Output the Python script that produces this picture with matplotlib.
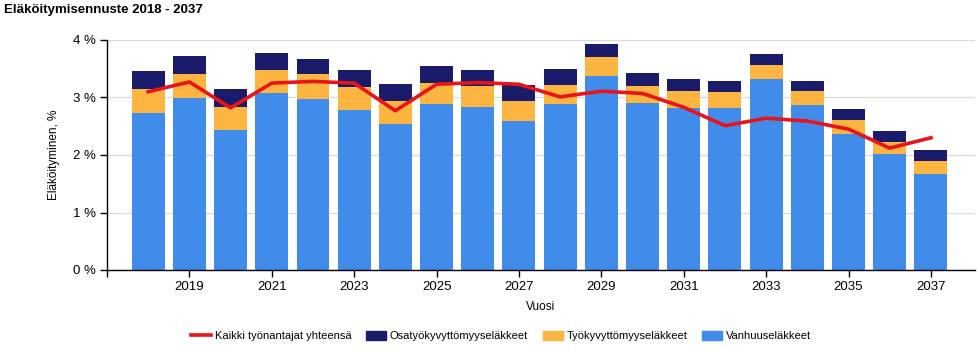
import numpy as np
import matplotlib
matplotlib.use("Agg")
from matplotlib import pyplot as plt
from matplotlib import lines as ml, patches as mp

plt.rcParams['font.family'] = ['Liberation Sans', 'DejaVu Sans']

# data (percent)
years = list(range(2018, 2038))
vanhuus = [2.73, 2.99, 2.44, 3.08, 2.97, 2.78, 2.54, 2.89, 2.83, 2.59,
           2.89, 3.37, 2.90, 2.82, 2.82, 3.32, 2.87, 2.37, 2.02, 1.67]
tyokyvyttomyys = [0.42, 0.42, 0.40, 0.40, 0.43, 0.41, 0.40, 0.36, 0.37, 0.35,
                  0.33, 0.33, 0.30, 0.29, 0.28, 0.25, 0.24, 0.24, 0.21, 0.23]
osatyokyvyttomyys = [0.31, 0.31, 0.31, 0.29, 0.27, 0.29, 0.29, 0.30, 0.28, 0.28,
                     0.28, 0.23, 0.23, 0.21, 0.19, 0.19, 0.18, 0.19, 0.19, 0.19]
kaikki = [3.10, 3.27, 2.82, 3.25, 3.28, 3.25, 2.77, 3.23, 3.26, 3.23,
          3.01, 3.11, 3.07, 2.83, 2.51, 2.64, 2.59, 2.45, 2.12, 2.30]

c_blue = "#418BEA"
c_orange = "#FDB541"
c_navy = "#1B1B6B"
c_red = "#E8141A"

fig = plt.figure(figsize=(9.77, 3.51), dpi=100)
ax = fig.add_axes([107 / 977, 81 / 351, 868 / 977, 230 / 351])

x = np.array(years)
v = np.array(vanhuus)
t = np.array(tyokyvyttomyys)
o = np.array(osatyokyvyttomyys)
ax.bar(x, v, width=0.8, color=c_blue, zorder=2)
ax.bar(x, t, width=0.8, bottom=v, color=c_orange, zorder=2)
ax.bar(x, o, width=0.8, bottom=v + t, color=c_navy, zorder=2)
ax.plot(x, kaikki, color=c_red, linewidth=2.6, zorder=3)

ax.set_xlim(2017, 2038.07)
ax.set_ylim(0, 4)
ax.set_yticks([0, 1, 2, 3, 4])
ax.set_yticklabels(["0 %", "1 %", "2 %", "3 %", "4 %"], fontsize=9.5)
xt = list(range(2017, 2038, 2))
ax.set_xticks(xt)
ax.set_xticklabels([""] + [str(y) for y in xt[1:]], fontsize=9.5)
ax.grid(axis='y', color="#d9d9d9", linewidth=0.9, zorder=0)
ax.set_axisbelow(True)
for s in ['top', 'right']:
    ax.spines[s].set_visible(False)
for s in ['left', 'bottom']:
    ax.spines[s].set_color("black")
    ax.spines[s].set_linewidth(1.0)
ax.tick_params(axis='both', direction='out', length=5, width=1, colors='black', pad=3)

ax.set_xlabel("Vuosi", fontsize=8.5, labelpad=6)
ax.set_ylabel("Eläköityminen, %", fontsize=8.5, labelpad=9)

fig.text(4 / 977, 1 - 10 / 351, "Eläköitymisennuste 2018 - 2037", fontsize=9.5,
         fontweight='bold', va='center', ha='left')

handles = [ml.Line2D([], [], color=c_red, linewidth=2.6),
           mp.Patch(color=c_navy), mp.Patch(color=c_orange), mp.Patch(color=c_blue)]
labels = ["Kaikki työnantajat yhteensä", "Osatyökyvyttömyyseläkkeet",
          "Työkyvyttömyyseläkkeet", "Vanhuuseläkkeet"]
fig.legend(handles, labels, loc='center', bbox_to_anchor=(501 / 977, 1 - 336 / 351),
           ncol=4, frameon=False, fontsize=8, handlelength=1.8, handleheight=0.9,
           columnspacing=1.3, handletextpad=0.35)

fig.savefig("out.png", dpi=100)
